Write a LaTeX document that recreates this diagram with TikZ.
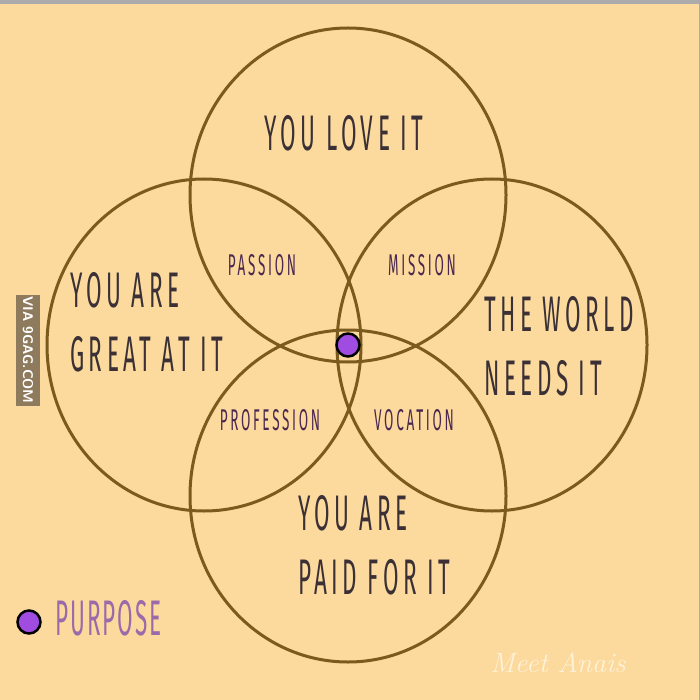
\documentclass[tikz,border=0pt]{standalone}
\usepackage{fontspec}
\newfontfamily\hand{Fira Sans}[FakeStretch=0.45, LetterSpace=9]
\newfontfamily\handp{Fira Sans}[FakeStretch=0.45, LetterSpace=4]
\definecolor{bg}{HTML}{FCD99C}
\definecolor{ring}{HTML}{7B5A1E}
\definecolor{maintxt}{HTML}{3A3035}
\definecolor{subtxt}{HTML}{4A2850}
\definecolor{dotc}{HTML}{A04CE0}
\definecolor{purp}{HTML}{9A6AAA}
\definecolor{gagbox}{HTML}{8E7A5C}
\definecolor{sig}{HTML}{FFF2D8}
\tikzset{
  ringstyle/.style={draw=ring, line width=3pt},
  bigtxt/.style={font=\hand\fontsize{50}{64}\selectfont, text=maintxt, align=left, inner sep=0pt},
  smalltxt/.style={font=\hand\fontsize{30}{34}\selectfont, text=subtxt, inner sep=0pt},
  purpdot/.style={circle, fill=dotc, draw=black, line width=2.5pt, minimum size=23pt, inner sep=0pt},
}
\begin{document}
\begin{tikzpicture}[x=1pt,y=-1pt]
\fill[bg] (0,0) rectangle (700,700);
\useasboundingbox (0,0) rectangle (700,700);
\fill[gray!90!black!60] (0,0) rectangle (700,4);
\fill[gray!90!black!60] (698.5,0) rectangle (700,700);
% circles
\draw[ringstyle] (348,195) ellipse [x radius=158, y radius=167];
\draw[ringstyle] (204,345) ellipse [x radius=157, y radius=166];
\draw[ringstyle] (492,345) ellipse [x radius=155, y radius=166];
\draw[ringstyle] (348,496) ellipse [x radius=158, y radius=166];
% main labels
\node[bigtxt] (love) at (344,133) {YOU LOVE IT};
\node[bigtxt, anchor=west] (great) at (70,322) {YOU ARE\\GREAT AT IT};
\node[bigtxt, anchor=west] (world) at (484,346) {THE WORLD\\NEEDS IT};
\node[bigtxt, anchor=west] (paid) at (298,545) {YOU ARE\\PAID FOR IT};
% intersections
\node[smalltxt] (passion) at (262,265) {PASSION};
\node[smalltxt] (mission) at (422,265) {MISSION};
\node[smalltxt] (profession) at (270,420) {PROFESSION};
\node[smalltxt] (vocation) at (414,420) {VOCATION};
% purpose
\node[purpdot] (center) at (348,345) {};
\node[purpdot] (legdot) at (29,622) {};
\node[font=\handp\fontsize{50}{54}\selectfont, text=purp, anchor=west, inner sep=0pt] (purpose) at (55,618) {PURPOSE};
% watermark
\node[fill=gagbox, text=white, rotate=-90, font=\sffamily\bfseries\fontsize{14}{15}\selectfont, minimum height=24pt, minimum width=111pt, inner sep=0pt] (gag) at (28,350) {VIA 9GAG.COM};
% signature
\node[text=sig, font=\itshape\fontsize{28}{30}\selectfont] (sign) at (558,663) {Meet Anais};
\end{tikzpicture}
\end{document}
